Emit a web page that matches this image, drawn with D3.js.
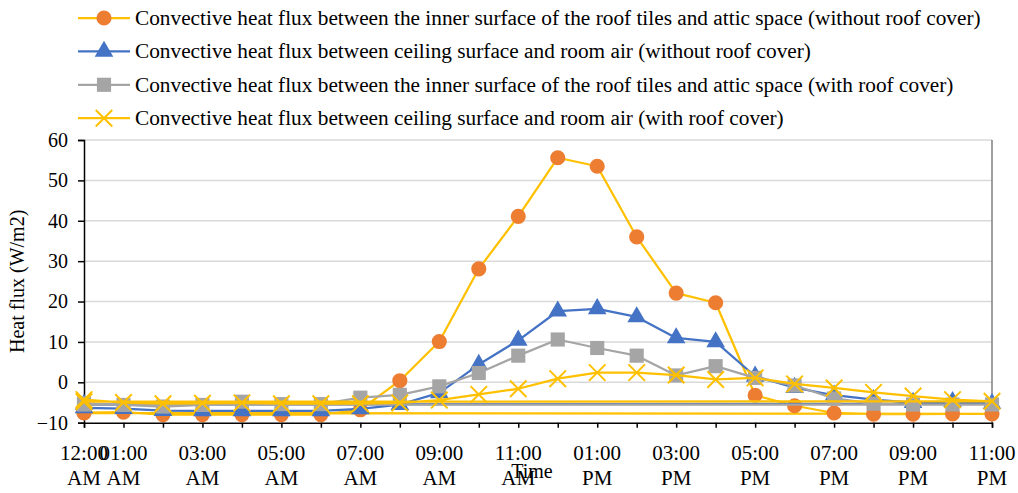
<!DOCTYPE html>
<html lang="en">
<head>
<meta charset="UTF-8">
<title>Convective heat flux</title>
<script src="https://cdn.jsdelivr.net/npm/d3@7"></script>
<style>
  body { margin: 0; background: #fff; }
  text { font-family: "Liberation Serif", "Times New Roman", serif; fill: #000; }
</style>
</head>
<body>
<svg width="1018" height="493" id="mainsvg"></svg>
<script>
// time of day (hours); the last point is 12:00 AM of the next day, drawn back at 0
const hours = [0, 1, 2, 3, 4, 5, 6, 7, 8, 9, 10, 11, 12, 13, 14, 15, 16, 17, 18, 19, 20, 21, 22, 23, 0];

const roofNoCover = [-7.5, -7.4, -8.0, -8.0, -8.0, -8.0, -8.0, -6.8, 0.4, 10.1, 28.1, 41.1, 55.6, 53.5, 36.0, 22.1, 19.7, -3.2, -5.8, -7.6, -7.9, -7.9, -7.8, -7.8, -7.6];
const ceilNoCover = [-6.3, -6.5, -7.0, -7.1, -7.1, -7.1, -7.1, -6.6, -5.5, -2.6, 4.4, 10.4, 17.6, 18.2, 16.2, 11.0, 10.0, 1.5, -1.3, -3.2, -4.3, -5.0, -4.8, -5.3, -5.5];
const roofCover = [-5.2, -5.6, -6.0, -5.6, -4.8, -5.4, -5.4, -3.8, -3.1, -1.0, 2.3, 6.6, 10.6, 8.5, 6.6, 1.7, 4.0, 1.1, -0.8, -4.0, -5.3, -5.5, -5.5, -5.5, -5.5];
const ceilCover = [-4.3, -5.0, -5.3, -5.2, -5.1, -5.3, -5.3, -5.3, -5.1, -4.4, -3.0, -1.6, 0.9, 2.4, 2.4, 1.8, 0.7, 1.1, -0.4, -1.4, -2.5, -3.4, -4.3, -4.7, -4.8];

const seriesNames = [
  'Convective heat flux between the inner surface of the roof tiles and attic space (without roof cover)',
  'Convective heat flux between ceiling surface and room air (without roof cover)',
  'Convective heat flux between the inner surface of the roof tiles and attic space (with roof cover)',
  'Convective heat flux between ceiling surface and room air (with roof cover)'
];

const yTicks = [-10, 0, 10, 20, 30, 40, 50, 60];
const xLabelHours = [0, 1, 3, 5, 7, 9, 11, 13, 15, 17, 19, 21, 23];
const xLabels = [['12:00', 'AM'], ['01:00', 'AM'], ['03:00', 'AM'], ['05:00', 'AM'], ['07:00', 'AM'], ['09:00', 'AM'],
  ['11:00', 'AM'], ['01:00', 'PM'], ['03:00', 'PM'], ['05:00', 'PM'], ['07:00', 'PM'], ['09:00', 'PM'], ['11:00', 'PM']];

const svg = d3.select('#mainsvg');
const plotLeft = 84, plotRight = 992, plotTop = 140, plotBottom = 422.7;

const x = d3.scaleLinear().domain([0, 23]).range([plotLeft, plotRight]);
const y = d3.scaleLinear().domain([-10, 60]).range([plotBottom, plotTop]);

// gridlines
svg.append('g').selectAll('line').data(yTicks.slice(1)).enter()
  .append('line')
  .attr('x1', plotLeft).attr('x2', plotRight)
  .attr('y1', d => y(d)).attr('y2', d => y(d))
  .attr('stroke', '#d9d9d9').attr('stroke-width', 1.5);

// right border
svg.append('line')
  .attr('x1', plotRight).attr('x2', plotRight).attr('y1', plotTop).attr('y2', plotBottom)
  .attr('stroke', '#808080').attr('stroke-width', 1.5);

// y axis
const yAxis = svg.append('g').attr('transform', `translate(${plotLeft},0)`)
  .call(d3.axisLeft(y).tickValues(yTicks).tickSize(6).tickPadding(10));
yAxis.select('.domain').attr('stroke', '#000').attr('stroke-width', 1.5);
yAxis.selectAll('.tick line').attr('stroke', '#000').attr('stroke-width', 1.5);
yAxis.selectAll('.tick text').attr('font-size', 20).attr('font-family', '"Liberation Serif", serif');

// x axis
const xAxis = svg.append('g').attr('transform', `translate(0,${plotBottom})`)
  .call(d3.axisBottom(x).tickValues(d3.range(24)).tickSize(5).tickFormat(''));
xAxis.select('.domain').attr('stroke', '#000').attr('stroke-width', 1.5);
xAxis.selectAll('.tick line').attr('stroke', '#000').attr('stroke-width', 1.5);

const xl = svg.append('g').selectAll('text').data(xLabelHours).enter()
  .append('text')
  .attr('text-anchor', 'middle')
  .attr('font-size', 21)
  .attr('x', d => x(d));
xl.append('tspan').attr('x', d => x(d)).attr('y', 460).text((d, i) => xLabels[i][0]);
xl.append('tspan').attr('x', d => x(d)).attr('y', 485).text((d, i) => xLabels[i][1]);

// axis titles
svg.append('text').text('Time')
  .attr('x', 532).attr('y', 478).attr('text-anchor', 'middle').attr('font-size', 20);
svg.append('text').text('Heat flux (W/m2)')
  .attr('transform', `translate(24,${(plotTop + plotBottom) / 2}) rotate(-90)`)
  .attr('text-anchor', 'middle').attr('font-size', 20);

// series
const series = [
  { name: seriesNames[0], values: roofNoCover, line: '#ffc000', fill: '#ed7d31', shape: 'circle' },
  { name: seriesNames[1], values: ceilNoCover, line: '#4472c4', fill: '#4472c4', shape: 'triangle' },
  { name: seriesNames[2], values: roofCover, line: '#a5a5a5', fill: '#a5a5a5', shape: 'square' },
  { name: seriesNames[3], values: ceilCover, line: '#ffc000', fill: '#ffc000', shape: 'cross' }
];

const symbolPath = {
  circle: d3.symbol(d3.symbolCircle, 180)(),
  triangle: d3.symbol(d3.symbolTriangle, 150)(),
  square: d3.symbol(d3.symbolSquare, 200)(),
  cross: d3.symbol(d3.symbolX, 180)()
};

function drawMarker(sel, s) {
  sel.append('path')
    .attr('d', symbolPath[s.shape])
    .attr('fill', s.shape === 'cross' ? 'none' : s.fill)
    .attr('stroke', s.shape === 'cross' ? s.fill : 'none')
    .attr('stroke-width', 2);
}

const line = d3.line().x(d => x(d[0])).y(d => y(d[1]));

series.forEach(s => {
  const pts = hours.map((h, i) => [h, s.values[i]]);
  const g = svg.append('g');
  g.append('path').datum(pts)
    .attr('d', line)
    .attr('fill', 'none')
    .attr('stroke', s.line)
    .attr('stroke-width', 2.25)
    .attr('stroke-linejoin', 'round');
  g.selectAll('g.pt').data(pts).enter()
    .append('g').attr('class', 'pt')
    .attr('transform', d => `translate(${x(d[0])},${y(d[1])})`)
    .each(function() { drawMarker(d3.select(this), s); });
});

// legend
const legend = svg.append('g');
series.forEach((s, i) => {
  const cy = 18 + i * 33.4;
  const g = legend.append('g').attr('transform', `translate(0,${cy})`);
  g.append('line').attr('x1', 78).attr('x2', 130).attr('y1', 0).attr('y2', 0)
    .attr('stroke', s.line).attr('stroke-width', 2.25);
  drawMarker(g.append('g').attr('transform', 'translate(104,0)'), s);
  g.append('text').text(s.name)
    .attr('x', 135).attr('y', 7).attr('font-size', 21.3);
});
</script>
</body>
</html>
